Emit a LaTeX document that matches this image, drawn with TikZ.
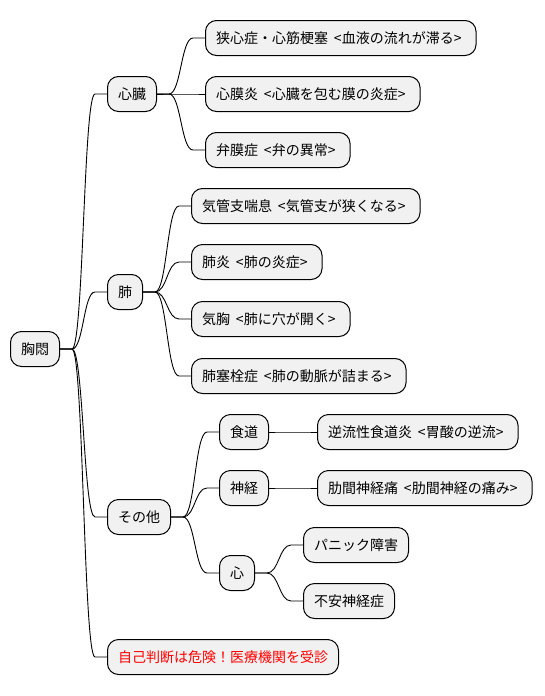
\documentclass[tikz,border=0pt]{standalone}
\usepackage{fontspec}
\setmainfont{Noto Sans CJK JP}
\usetikzlibrary{calc}

\definecolor{topicfill}{HTML}{F1F1F1}
\definecolor{warnred}{HTML}{FF0000}

\tikzset{
  topic/.style={draw=black, fill=topicfill, line width=1pt, rounded corners=11pt,
    minimum height=35pt, inner xsep=10.5pt, anchor=west,
    font=\fontsize{14}{17}\selectfont},
  branchline/.style={draw=black, line width=0.9pt}
}

% bracketed note after a topic
\newcommand\topicnote[1]{\kern6pt<#1>\kern4pt}

% connector: short stub, S-curve, short stub
\newcommand\branch[2]{%
  \draw[branchline] let \p1=(#1.east), \p2=(#2.west) in
    (\p1) -- (\x1+12pt,\y1)
    .. controls (0.5*\x1+0.5*\x2,\y1) and (0.5*\x1+0.5*\x2,\y2) ..
    (\x2-12pt,\y2) -- (\p2);}

\begin{document}
\begin{tikzpicture}[x=1pt,y=-1pt]
\useasboundingbox (0,0) rectangle (544,696);

\node[topic] (chest) at (10,349) {胸悶};

% heart
\node[topic] (heart) at (107,94) {心臓};
\node[topic] (angina) at (205,38) {狭心症・心筋梗塞\topicnote{血液の流れが滞る}};
\node[topic] (pericard) at (205,94) {心膜炎\topicnote{心臓を包む膜の炎症}};
\node[topic] (valve) at (205,150) {弁膜症\topicnote{弁の異常}};

% lung
\node[topic] (lung) at (107,292) {肺};
\node[topic] (asthma) at (191,206) {気管支喘息\topicnote{気管支が狭くなる}};
\node[topic] (pneu) at (191,262) {肺炎\topicnote{肺の炎症}};
\node[topic] (pneumo) at (191,319) {気胸\topicnote{肺に穴が開く}};
\node[topic] (embol) at (191,376) {肺塞栓症\topicnote{肺の動脈が詰まる}};

% others
\node[topic] (other) at (107,517) {その他};
\node[topic] (esoph) at (219,432) {食道};
\node[topic] (reflux) at (317,432) {逆流性食道炎\topicnote{胃酸の逆流}};
\node[topic] (nerve) at (219,488) {神経};
\node[topic] (interc) at (317,488) {肋間神経痛\topicnote{肋間神経の痛み}};
\node[topic] (mind) at (219,573) {心};
\node[topic] (panic) at (303,545) {パニック障害};
\node[topic] (anxiety) at (303,601) {不安神経症};

\node[topic, text=warnred] (warn) at (107,657) {自己判断は危険！医療機関を受診};

\branch{chest}{heart}
\branch{chest}{lung}
\branch{chest}{other}
\branch{chest}{warn}
\branch{heart}{angina}
\branch{heart}{pericard}
\branch{heart}{valve}
\branch{lung}{asthma}
\branch{lung}{pneu}
\branch{lung}{pneumo}
\branch{lung}{embol}
\branch{other}{esoph}
\branch{other}{nerve}
\branch{other}{mind}
\branch{esoph}{reflux}
\branch{nerve}{interc}
\branch{mind}{panic}
\branch{mind}{anxiety}
\end{tikzpicture}
\end{document}
